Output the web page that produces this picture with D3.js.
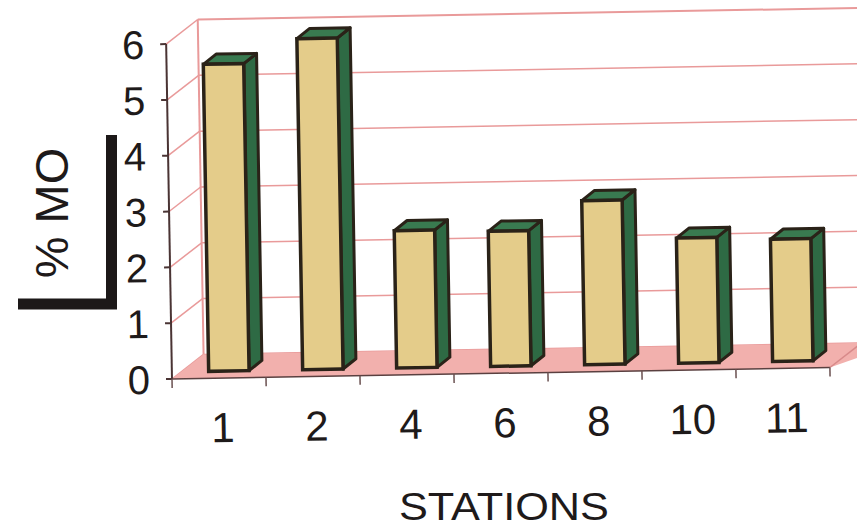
<!DOCTYPE html>
<html>
<head>
<meta charset="utf-8">
<script src="https://cdn.jsdelivr.net/npm/d3@7"></script>
<style>
  html, body { margin: 0; padding: 0; background: #fff; }
  svg { display: block; }
  text { font-family: "Liberation Sans", Arial, sans-serif; fill: #1e1a1a; }
</style>
</head>
<body>
<svg id="chart" width="857" height="529"></svg>
<script>
// ---- data ----
const categories = ["1", "2", "4", "6", "8", "10", "11"];
const moValues = [5.5, 5.93, 2.46, 2.42, 2.94, 2.24, 2.19];
const yTicks = [0, 1, 2, 3, 4, 5, 6];
const xTitle = "STATIONS";
const yTitle = "% MO";

// ---- layout ----
const x0 = 172, x1 = 830, yBase = 379, yTop = 44;
const depth = { dx: 32, dy: -24 };      // floor / wall depth
const barOff = { dx: 10, dy: -7 };       // bar front offset into depth
const barDepth = { dx: 13, dy: -10 };    // bar depth
const svg = d3.select("#chart");

const x = d3.scaleBand().domain(categories).range([x0, x1]).padding(0);
const y = d3.scaleLinear().domain([0, 6]).range([yBase, yTop]);

const g = svg.append("g").attr("transform", `rotate(-1, ${x0}, ${yBase})`);

const pink = "#e99a9a";
// back wall gridlines
g.selectAll("line.grid").data(yTicks).join("line")
  .attr("x1", x0 + depth.dx).attr("x2", x1 + depth.dx + 40)
  .attr("y1", d => y(d) + depth.dy).attr("y2", d => y(d) + depth.dy)
  .attr("stroke", pink).attr("stroke-width", d => d === 6 ? 2 : 1.5);
// back wall left edge
g.append("line")
  .attr("x1", x0 + depth.dx).attr("x2", x0 + depth.dx)
  .attr("y1", y(6) + depth.dy).attr("y2", y(0) + depth.dy)
  .attr("stroke", pink).attr("stroke-width", 2);
// side wall diagonals
g.selectAll("line.diag").data(yTicks).join("line")
  .attr("x1", x0).attr("x2", x0 + depth.dx)
  .attr("y1", d => y(d)).attr("y2", d => y(d) + depth.dy)
  .attr("stroke", pink).attr("stroke-width", 1.5);
// floor
g.append("path")
  .attr("d", `M${x0},${y(0)} L${x1},${y(0)} L${x1 + depth.dx + 40},${y(0) + depth.dy} L${x0 + depth.dx},${y(0) + depth.dy} Z`)
  .attr("fill", "#f2b0ad");
g.append("line")
  .attr("x1", x1).attr("x2", x1 + depth.dx)
  .attr("y1", y(0)).attr("y2", y(0) + depth.dy)
  .attr("stroke", "#d88a8a").attr("stroke-width", 1.5);

// y axis
g.append("line").attr("x1", x0).attr("x2", x0).attr("y1", y(6)).attr("y2", y(0))
  .attr("stroke", "#4a3434").attr("stroke-width", 2);
g.selectAll("line.ytick").data(yTicks).join("line")
  .attr("x1", x0 - 6).attr("x2", x0).attr("y1", d => y(d)).attr("y2", d => y(d))
  .attr("stroke", "#4a3434").attr("stroke-width", 2);
// x axis
g.append("line").attr("x1", x0).attr("x2", x1).attr("y1", y(0)).attr("y2", y(0))
  .attr("stroke", "#5a4040").attr("stroke-width", 1.5);
const bounds = categories.map(c => x(c)).concat([x1]);
g.selectAll("line.xtick").data(bounds).join("line")
  .attr("x1", d => d).attr("x2", d => d).attr("y1", y(0)).attr("y2", y(0) + 9)
  .attr("stroke", "#6a5050").attr("stroke-width", 1.5);

// bars
const outline = "#2a2218";
const bw = x.bandwidth() * 0.43;
const bars = g.selectAll("g.bar").data(categories.map((c, i) => ({ c, v: moValues[i] }))).join("g");
bars.each(function(d) {
  const gb = d3.select(this);
  const fx = x(d.c) + x.bandwidth() / 2 + barOff.dx - bw / 2;
  const fy0 = y(0) + barOff.dy, fy1 = y(d.v) + barOff.dy;
  // side
  gb.append("path")
    .attr("d", `M${fx + bw},${fy1} L${fx + bw + barDepth.dx},${fy1 + barDepth.dy} L${fx + bw + barDepth.dx},${fy0 + barDepth.dy} L${fx + bw},${fy0} Z`)
    .attr("fill", "#2e6a44").attr("stroke", outline).attr("stroke-width", 3).attr("stroke-linejoin", "round");
  // top
  gb.append("path")
    .attr("d", `M${fx},${fy1} L${fx + barDepth.dx},${fy1 + barDepth.dy} L${fx + bw + barDepth.dx},${fy1 + barDepth.dy} L${fx + bw},${fy1} Z`)
    .attr("fill", "#397a50").attr("stroke", outline).attr("stroke-width", 3).attr("stroke-linejoin", "round");
  // front
  gb.append("rect")
    .attr("x", fx).attr("y", fy1).attr("width", bw).attr("height", fy0 - fy1)
    .attr("fill", "#e4cc8a").attr("stroke", outline).attr("stroke-width", 3.5);
});

// x labels
g.selectAll("text.xl").data(categories).join("text")
  .attr("x", d => x(d) + x.bandwidth() / 2 + 3).attr("y", y(0) + 64)
  .attr("text-anchor", "middle").attr("font-size", 42)
  .text(d => d);

// y labels
g.selectAll("text.yl").data(yTicks).join("text")
  .attr("x", x0 - 22).attr("y", d => y(d)).attr("dy", "0.36em")
  .attr("text-anchor", "end").attr("font-size", 40)
  .text(d => d);

// x title
svg.append("text").attr("x", 504).attr("y", 520).attr("text-anchor", "middle")
  .attr("font-size", 38).attr("textLength", 210).attr("lengthAdjust", "spacingAndGlyphs")
  .text(xTitle);

// y title with L bracket
svg.append("text").attr("transform", "translate(68,213) rotate(-90)")
  .attr("text-anchor", "middle").attr("font-size", 47)
  .text(yTitle);
svg.append("path").attr("d", "M111.5,135 V304 H18")
  .attr("fill", "none").attr("stroke", "#1c1818").attr("stroke-width", 11)
  .attr("stroke-linejoin", "miter");
</script>
</body>
</html>
